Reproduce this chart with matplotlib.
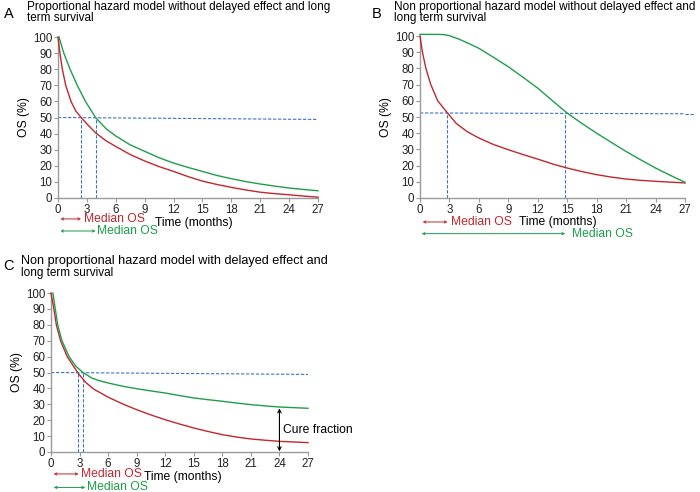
import matplotlib
matplotlib.use("Agg")
from matplotlib import pyplot as plt

plt.rcParams['font.family'] = ['Liberation Sans', 'DejaVu Sans']

RED = '#c1272d'
GREEN = '#1e9e4a'
BLUE = '#3f74c4'
GREY = '#9a9a9a'

# panel A: proportional hazards
a_red_t = [0, 0.2, 0.45, 0.8, 1.35, 1.85, 2.4, 3.0, 3.9, 5.0, 6, 7.5, 9, 10.5, 12, 13.5, 15, 16.5, 18, 19.5, 21, 22.5, 24, 25.5, 27]
a_red_s = [100, 90, 80, 70, 60, 54, 50, 46, 40.5, 35.5, 32, 27, 23, 19.5, 16.5, 13.3, 10.5, 8.4, 6.6, 5.0, 3.6, 2.7, 2.0, 1.2, 0.5]
a_green_t = [0.1, 0.6, 1.25, 2.0, 2.85, 3.9, 5.0, 6, 7.5, 9, 10.5, 12, 13.5, 15, 16.5, 18, 19.5, 21, 22.5, 24, 25.5, 27]
a_green_s = [100, 90, 80, 70, 60, 50, 43, 38.5, 33, 29, 25, 21.7, 19, 16.5, 14, 12, 10.2, 8.7, 7.4, 6.2, 5.3, 4.5]
a_hline = [50, 48.8]
a_medians = [2.4, 3.9]

# panel B: non proportional, no delay
b_red_t = [0, 0.25, 0.6, 1.1, 1.8, 2.8, 3.7, 4.8, 6, 7.5, 9, 10.5, 12, 13.5, 15, 16.5, 18, 19.5, 21, 22.5, 24, 25.5, 27]
b_red_s = [100, 90, 80, 70, 60, 52.5, 46, 41, 37, 33, 29.8, 26.8, 24, 21, 18.5, 16.3, 14.4, 12.9, 11.7, 10.9, 10.3, 9.8, 9.3]
b_green_t = [0, 1, 2, 2.5, 3, 4, 5, 6, 7.5, 9, 10.5, 12, 13.5, 15, 16.5, 18, 19.5, 21, 22.5, 24, 25.5, 27]
b_green_s = [101, 101, 101, 100.8, 100.2, 98, 95.3, 92.4, 86.8, 81, 74.5, 67.8, 60, 52.4, 46, 40, 34.3, 28.7, 23.5, 18.5, 14, 9.7]
b_hline = [52.5, 52]
b_medians = [2.8, 14.8]

# panel C: non proportional, delayed effect + cure
c_red_t = [0, 0.3, 0.56, 1.0, 1.7, 2.8, 3.6, 4.5, 6, 7.5, 9, 10.5, 12, 13.5, 15, 16.5, 18, 19.5, 21, 22.5, 24, 25.5, 27]
c_red_s = [100, 90, 80, 70, 60, 50, 44, 39.5, 34.5, 30.3, 26.6, 23.3, 20.3, 17.6, 15.1, 12.9, 10.9, 9.4, 8.2, 7.4, 6.7, 6.3, 5.9]
c_green_t = [0.2, 0.45, 0.7, 1.15, 1.9, 2.6, 3.35, 4.3, 5, 6, 7.5, 9, 10.5, 12, 13.5, 15, 16.5, 18, 19.5, 21, 22.5, 24, 25.5, 27]
c_green_s = [100, 90, 80, 70, 60, 54, 50, 46.5, 45, 43.4, 41.4, 39.8, 38.4, 37.1, 35.5, 34, 32.9, 31.9, 30.8, 29.8, 29, 28.3, 27.9, 27.5]
c_hline = [50, 48.8]
c_medians = [2.8, 3.35]
cure_t = 24
cure_range = [0.4, 27.5]

W, H = 700, 492


def style_axes(ax):
    ax.set_xlim(0, 27)
    ax.set_ylim(0, 100)
    ax.set_xticks(range(0, 28, 3))
    ax.set_yticks(range(0, 101, 10))
    for side in ['top', 'right']:
        ax.spines[side].set_visible(False)
    for side in ['left', 'bottom']:
        ax.spines[side].set_color(GREY)
        ax.spines[side].set_linewidth(1.0)
    ax.tick_params(length=3, width=0.8, color=GREY, labelsize=8.3, pad=1, labelcolor='#222222')
    ax.set_ylabel('OS (%)', fontsize=8.7, labelpad=2)
    ax.patch.set_alpha(0)


def draw_panel(ax, red_t, red_s, green_t, green_s, hline, medians):
    ax.plot(red_t, red_s, color=RED, lw=1.0, clip_on=False, zorder=3)
    ax.plot(green_t, green_s, color=GREEN, lw=1.0, clip_on=False, zorder=3)
    ax.plot([0, 27], hline, color=BLUE, lw=0.8, ls=(0, (3, 1.5)), clip_on=False, zorder=2)
    for m in medians:
        ax.plot([m, m], [0, hline[0]], color=BLUE, lw=0.8, ls=(0, (3, 1.5)), zorder=2)


def median_arrow(ax, x0, x1, y, color, text_x):
    ax.annotate('', xy=(x1, y), xytext=(x0, y), annotation_clip=False,
                arrowprops=dict(arrowstyle='<->', color=color, lw=0.7,
                                shrinkA=0, shrinkB=0, mutation_scale=4))
    ax.text(text_x, y, 'Median OS', color=color, fontsize=8.7, va='center',
            ha='left', clip_on=False)


def px_axes(fig, left, top, right, bottom):
    return fig.add_axes([left / W, 1 - bottom / H, (right - left) / W, (bottom - top) / H])


fig = plt.figure(figsize=(7, 4.92), dpi=100)

# A
axA = px_axes(fig, 58, 37, 318, 198)
style_axes(axA)
draw_panel(axA, a_red_t, a_red_s, a_green_t, a_green_s, a_hline, a_medians)
median_arrow(axA, 0.25, a_medians[0], -13, RED, 2.75)
median_arrow(axA, 0.25, a_medians[1], -20.5, GREEN, 4.05)
axA.text(14.1, -15.5, 'Time (months)', fontsize=8.7, ha='center', va='center')
fig.text(4 / W, 1 - 7 / H, 'A', fontsize=10.5, va='top', ha='left')
fig.text(27 / W, 1 - 1 / H, 'Proportional hazard model without delayed effect and long\nterm survival',
         fontsize=8.5, va='top', ha='left', linespacing=0.92)

# B
axB = px_axes(fig, 420, 36, 685, 198)
style_axes(axB)
draw_panel(axB, b_red_t, b_red_s, b_green_t, b_green_s, b_hline, b_medians)
axB.plot([27, 27.9], [b_hline[1], b_hline[1]], color=BLUE, lw=0.8, ls=(0, (3, 1.5)), clip_on=False)
median_arrow(axB, 0.27, b_medians[0], -14.8, RED, 3.2)
median_arrow(axB, 0.17, b_medians[1], -22, GREEN, 15.5)
axB.text(14.05, -14.8, 'Time (months)', fontsize=8.7, ha='center', va='center')
fig.text(372 / W, 1 - 7 / H, 'B', fontsize=10.5, va='top', ha='left')
fig.text(394 / W, 1 - 1 / H, 'Non proportional hazard model without delayed effect and\nlong term survival',
         fontsize=8.5, va='top', ha='left', linespacing=0.92)

# C
axC = px_axes(fig, 51, 293, 308, 452)
style_axes(axC)
draw_panel(axC, c_red_t, c_red_s, c_green_t, c_green_s, c_hline, c_medians)
axC.annotate('', xy=(cure_t, cure_range[1]), xytext=(cure_t, cure_range[0]),
             arrowprops=dict(arrowstyle='<->', color='black', lw=0.8,
                             shrinkA=0, shrinkB=0, mutation_scale=6))
axC.text(24.4, 14, 'Cure fraction', fontsize=8.7, va='center', ha='left', clip_on=False)
median_arrow(axC, 0.28, 2.9, -13.8, RED, 3.1)
median_arrow(axC, 0.28, 3.6, -22.3, GREEN, 3.8)
axC.text(13.9, -15.7, 'Time (months)', fontsize=8.7, ha='center', va='center')
fig.text(3 / W, 1 - 259 / H, 'C', fontsize=10.5, va='top', ha='left')
fig.text(21 / W, 1 - 255 / H, 'Non proportional hazard model with delayed effect and',
         fontsize=9.1, va='top', ha='left')
fig.text(21 / W, 1 - 267 / H, 'long term survival', fontsize=8.5, va='top', ha='left')

fig.savefig('out.png', dpi=100)
